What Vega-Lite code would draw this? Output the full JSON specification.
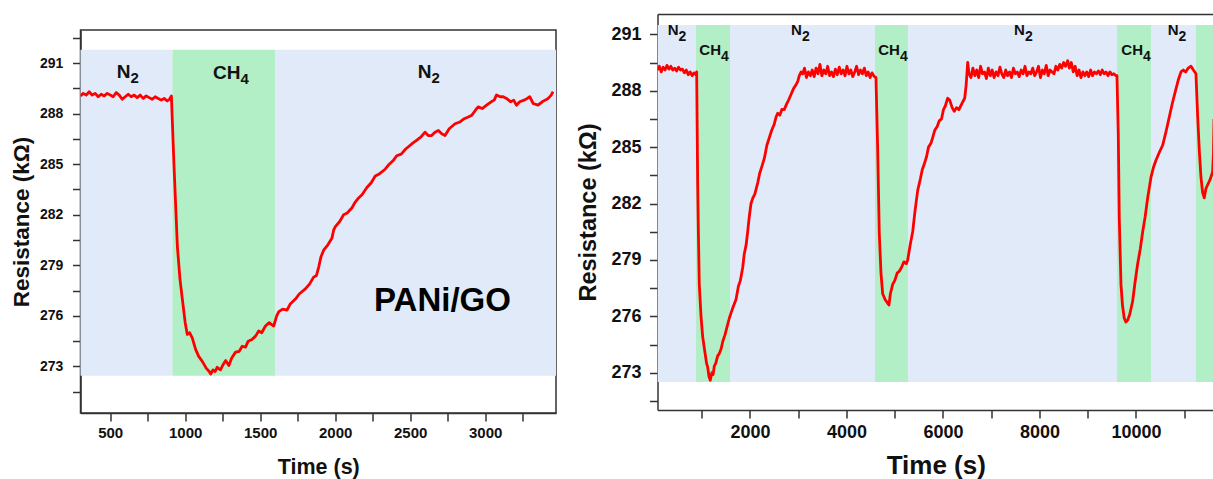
{
  "$schema": "https://vega.github.io/schema/vega-lite/v6.json",
  "padding": {"left": 9.5, "top": 14, "right": 0, "bottom": 0},
  "background": "white",
  "config": {
    "font": "Liberation Sans",
    "view": {"stroke": null},
    "axis": {
      "grid": false,
      "domainColor": "#333333",
      "domainWidth": 1.5,
      "tickColor": "#333333",
      "tickWidth": 1.5,
      "labelColor": "#111111",
      "titleColor": "#111111",
      "labelFontWeight": "bold",
      "titleFontWeight": "bold",
      "labelOverlap": false,
      "labelFlush": false,
      "tickCount": 100
    }
  },
  "datasets": {
    "leftBands": [
      {"t0": 302, "t1": 915, "gas": "N2"},
      {"t0": 915, "t1": 1602, "gas": "CH4"},
      {"t0": 1602, "t1": 3472, "gas": "N2"}
    ],
    "rightBands": [
      {"t0": 83, "t1": 881, "gas": "N2"},
      {"t0": 881, "t1": 1586, "gas": "CH4"},
      {"t0": 1586, "t1": 4590, "gas": "N2"},
      {"t0": 4590, "t1": 5274, "gas": "CH4"},
      {"t0": 5274, "t1": 9606, "gas": "N2"},
      {"t0": 9606, "t1": 10311, "gas": "CH4"},
      {"t0": 10311, "t1": 11243, "gas": "N2"},
      {"t0": 11243, "t1": 11617, "gas": "CH4"}
    ],
    "leftLabels": [
      {"t": 635, "r": 290.13, "main": "N", "sub": "2"},
      {"t": 1369, "r": 290.07, "main": "CH", "sub": "4"},
      {"t": 2642, "r": 290.13, "main": "N", "sub": "2"}
    ],
    "rightLabels": [
      {"t": 518, "r": 290.96, "main": "N", "sub": "2"},
      {"t": 1399, "r": 289.9, "main": "CH", "sub": "4"},
      {"t": 3077, "r": 290.96, "main": "N", "sub": "2"},
      {"t": 5107, "r": 289.9, "main": "CH", "sub": "4"},
      {"t": 7699, "r": 290.96, "main": "N", "sub": "2"},
      {"t": 10145, "r": 289.9, "main": "CH", "sub": "4"},
      {"t": 10881, "r": 290.96, "main": "N", "sub": "2"}
    ],
    "L": [
      {"t": 302, "r": 289.05}, {"t": 320, "r": 289.2}, {"t": 340, "r": 289.1}, {"t": 360, "r": 289.3},
      {"t": 380, "r": 289.1}, {"t": 400, "r": 289.2}, {"t": 420, "r": 289.0}, {"t": 440, "r": 289.15},
      {"t": 460, "r": 289.05}, {"t": 480, "r": 289.2}, {"t": 500, "r": 289.1}, {"t": 520, "r": 289.0},
      {"t": 540, "r": 289.25}, {"t": 560, "r": 289.1}, {"t": 580, "r": 288.85}, {"t": 600, "r": 289.0},
      {"t": 620, "r": 289.15}, {"t": 640, "r": 289.0}, {"t": 660, "r": 289.1}, {"t": 680, "r": 288.95},
      {"t": 700, "r": 289.1}, {"t": 720, "r": 288.9}, {"t": 740, "r": 289.05}, {"t": 760, "r": 288.95},
      {"t": 780, "r": 288.85}, {"t": 800, "r": 289.0}, {"t": 820, "r": 288.9}, {"t": 840, "r": 288.8},
      {"t": 860, "r": 288.9}, {"t": 880, "r": 288.75}, {"t": 895, "r": 288.85}, {"t": 908, "r": 289.05},
      {"t": 925, "r": 285.0}, {"t": 948, "r": 280.1}, {"t": 965, "r": 278.2}, {"t": 981, "r": 277.0},
      {"t": 1000, "r": 275.6}, {"t": 1014, "r": 274.9}, {"t": 1030, "r": 275.0}, {"t": 1047, "r": 274.7},
      {"t": 1070, "r": 274.0}, {"t": 1090, "r": 273.6}, {"t": 1114, "r": 273.3}, {"t": 1140, "r": 272.9},
      {"t": 1160, "r": 272.7}, {"t": 1170, "r": 272.55}, {"t": 1185, "r": 272.8}, {"t": 1200, "r": 272.7},
      {"t": 1213, "r": 272.95}, {"t": 1235, "r": 272.8}, {"t": 1255, "r": 273.15}, {"t": 1270, "r": 273.35},
      {"t": 1291, "r": 273.05}, {"t": 1310, "r": 273.5}, {"t": 1336, "r": 273.85}, {"t": 1360, "r": 273.9},
      {"t": 1380, "r": 274.2}, {"t": 1402, "r": 274.15}, {"t": 1420, "r": 274.5}, {"t": 1445, "r": 274.6},
      {"t": 1469, "r": 274.8}, {"t": 1490, "r": 275.1}, {"t": 1510, "r": 275.0}, {"t": 1535, "r": 275.4},
      {"t": 1560, "r": 275.6}, {"t": 1590, "r": 275.4}, {"t": 1610, "r": 276.0}, {"t": 1624, "r": 276.25},
      {"t": 1650, "r": 276.4}, {"t": 1679, "r": 276.35}, {"t": 1700, "r": 276.7}, {"t": 1735, "r": 277.0},
      {"t": 1760, "r": 277.3}, {"t": 1801, "r": 277.6}, {"t": 1830, "r": 277.9}, {"t": 1856, "r": 278.3},
      {"t": 1875, "r": 278.4}, {"t": 1890, "r": 278.9}, {"t": 1905, "r": 279.5}, {"t": 1923, "r": 279.9},
      {"t": 1950, "r": 280.2}, {"t": 1978, "r": 280.6}, {"t": 1990, "r": 281.1}, {"t": 2001, "r": 281.3},
      {"t": 2030, "r": 281.6}, {"t": 2056, "r": 282.0}, {"t": 2080, "r": 282.1}, {"t": 2111, "r": 282.4},
      {"t": 2130, "r": 282.7}, {"t": 2156, "r": 283.0}, {"t": 2180, "r": 283.2}, {"t": 2210, "r": 283.6},
      {"t": 2240, "r": 283.9}, {"t": 2267, "r": 284.3}, {"t": 2290, "r": 284.4}, {"t": 2333, "r": 284.7},
      {"t": 2360, "r": 285.0}, {"t": 2385, "r": 285.2}, {"t": 2410, "r": 285.5}, {"t": 2440, "r": 285.6},
      {"t": 2470, "r": 285.9}, {"t": 2510, "r": 286.2}, {"t": 2540, "r": 286.4}, {"t": 2570, "r": 286.6},
      {"t": 2599, "r": 286.9}, {"t": 2620, "r": 286.7}, {"t": 2643, "r": 286.7}, {"t": 2665, "r": 286.9},
      {"t": 2688, "r": 287.0}, {"t": 2710, "r": 286.8}, {"t": 2732, "r": 286.7}, {"t": 2760, "r": 287.1},
      {"t": 2799, "r": 287.4}, {"t": 2830, "r": 287.5}, {"t": 2860, "r": 287.7}, {"t": 2887, "r": 287.8},
      {"t": 2910, "r": 287.9}, {"t": 2935, "r": 288.2}, {"t": 2953, "r": 288.4}, {"t": 2980, "r": 288.3},
      {"t": 3009, "r": 288.5}, {"t": 3040, "r": 288.7}, {"t": 3060, "r": 288.8}, {"t": 3075, "r": 289.1},
      {"t": 3100, "r": 289.0}, {"t": 3120, "r": 289.0}, {"t": 3142, "r": 288.9}, {"t": 3170, "r": 288.7},
      {"t": 3190, "r": 288.8}, {"t": 3208, "r": 288.5}, {"t": 3230, "r": 288.7}, {"t": 3260, "r": 288.8},
      {"t": 3280, "r": 288.9}, {"t": 3297, "r": 289.0}, {"t": 3320, "r": 288.6}, {"t": 3352, "r": 288.5},
      {"t": 3380, "r": 288.7}, {"t": 3400, "r": 288.8}, {"t": 3420, "r": 288.9}, {"t": 3440, "r": 289.1},
      {"t": 3452, "r": 289.3}
    ],
    "R": [
      {"t": 83, "r": 289.1}, {"t": 120, "r": 289.3}, {"t": 160, "r": 289.0}, {"t": 200, "r": 289.25},
      {"t": 240, "r": 289.1}, {"t": 280, "r": 289.35}, {"t": 320, "r": 289.15}, {"t": 360, "r": 289.3},
      {"t": 400, "r": 289.1}, {"t": 440, "r": 289.2}, {"t": 480, "r": 289.05}, {"t": 520, "r": 289.25},
      {"t": 560, "r": 289.1}, {"t": 600, "r": 289.15}, {"t": 640, "r": 288.95}, {"t": 680, "r": 289.1},
      {"t": 720, "r": 288.85}, {"t": 760, "r": 289.0}, {"t": 800, "r": 288.8}, {"t": 840, "r": 288.95},
      {"t": 880, "r": 288.85}, {"t": 895, "r": 289.0},
      {"t": 916, "r": 283.0}, {"t": 930, "r": 280.5}, {"t": 949, "r": 277.7}, {"t": 985, "r": 276.0},
      {"t": 1020, "r": 274.9}, {"t": 1060, "r": 274.2}, {"t": 1100, "r": 273.5}, {"t": 1123, "r": 273.3},
      {"t": 1150, "r": 272.8}, {"t": 1177, "r": 272.6}, {"t": 1210, "r": 273.0}, {"t": 1235, "r": 272.9},
      {"t": 1260, "r": 273.35}, {"t": 1290, "r": 273.5}, {"t": 1330, "r": 273.9}, {"t": 1360, "r": 274.0},
      {"t": 1399, "r": 274.25}, {"t": 1440, "r": 274.7}, {"t": 1480, "r": 275.0}, {"t": 1520, "r": 275.4},
      {"t": 1571, "r": 275.9}, {"t": 1610, "r": 276.2}, {"t": 1650, "r": 276.5}, {"t": 1710, "r": 276.9},
      {"t": 1760, "r": 277.6}, {"t": 1800, "r": 277.9}, {"t": 1849, "r": 278.6}, {"t": 1880, "r": 279.3},
      {"t": 1920, "r": 279.8}, {"t": 1952, "r": 280.5}, {"t": 1985, "r": 281.3}, {"t": 2021, "r": 282.0},
      {"t": 2060, "r": 282.3}, {"t": 2100, "r": 282.5}, {"t": 2160, "r": 283.1}, {"t": 2200, "r": 283.6},
      {"t": 2250, "r": 284.0}, {"t": 2297, "r": 284.4}, {"t": 2350, "r": 285.1}, {"t": 2400, "r": 285.5},
      {"t": 2450, "r": 285.9}, {"t": 2500, "r": 286.2}, {"t": 2540, "r": 286.6}, {"t": 2574, "r": 286.8},
      {"t": 2620, "r": 286.7}, {"t": 2660, "r": 287.0}, {"t": 2711, "r": 287.0}, {"t": 2760, "r": 287.3},
      {"t": 2800, "r": 287.5}, {"t": 2850, "r": 287.8}, {"t": 2900, "r": 288.1}, {"t": 2950, "r": 288.3},
      {"t": 2990, "r": 288.5}, {"t": 3022, "r": 288.8}, {"t": 3060, "r": 289.0}, {"t": 3092, "r": 288.9},
      {"t": 3130, "r": 289.2}, {"t": 3170, "r": 288.7}, {"t": 3210, "r": 289.0}, {"t": 3250, "r": 288.8},
      {"t": 3290, "r": 289.1}, {"t": 3330, "r": 288.75}, {"t": 3370, "r": 289.2}, {"t": 3410, "r": 288.9},
      {"t": 3450, "r": 289.4}, {"t": 3490, "r": 288.8}, {"t": 3530, "r": 289.1}, {"t": 3570, "r": 288.9},
      {"t": 3610, "r": 289.3}, {"t": 3650, "r": 288.8}, {"t": 3690, "r": 289.0}, {"t": 3730, "r": 288.75},
      {"t": 3770, "r": 289.15}, {"t": 3810, "r": 288.85}, {"t": 3850, "r": 289.25}, {"t": 3890, "r": 288.9},
      {"t": 3930, "r": 289.1}, {"t": 3970, "r": 288.8}, {"t": 4010, "r": 289.3}, {"t": 4050, "r": 288.9},
      {"t": 4090, "r": 289.1}, {"t": 4130, "r": 288.75}, {"t": 4170, "r": 289.0}, {"t": 4210, "r": 289.3},
      {"t": 4250, "r": 288.85}, {"t": 4290, "r": 289.1}, {"t": 4330, "r": 288.9}, {"t": 4370, "r": 289.2},
      {"t": 4410, "r": 288.8}, {"t": 4450, "r": 289.0}, {"t": 4490, "r": 288.7}, {"t": 4530, "r": 288.95},
      {"t": 4576, "r": 288.75},
      {"t": 4611, "r": 288.7}, {"t": 4647, "r": 284.8}, {"t": 4680, "r": 280.4}, {"t": 4715, "r": 278.3},
      {"t": 4750, "r": 277.2}, {"t": 4800, "r": 276.9}, {"t": 4854, "r": 276.7}, {"t": 4880, "r": 276.6},
      {"t": 4910, "r": 277.2}, {"t": 4957, "r": 277.7}, {"t": 5000, "r": 277.9}, {"t": 5050, "r": 278.3},
      {"t": 5094, "r": 278.4}, {"t": 5140, "r": 278.6}, {"t": 5190, "r": 278.9}, {"t": 5240, "r": 278.8},
      {"t": 5268, "r": 279.0}, {"t": 5320, "r": 279.8}, {"t": 5372, "r": 280.5}, {"t": 5420, "r": 281.6},
      {"t": 5476, "r": 282.7}, {"t": 5530, "r": 283.3}, {"t": 5570, "r": 283.8}, {"t": 5612, "r": 284.1},
      {"t": 5660, "r": 284.5}, {"t": 5700, "r": 285.0}, {"t": 5750, "r": 285.2}, {"t": 5786, "r": 285.5},
      {"t": 5830, "r": 285.9}, {"t": 5880, "r": 286.1}, {"t": 5923, "r": 286.4}, {"t": 5970, "r": 286.5},
      {"t": 6010, "r": 287.0}, {"t": 6050, "r": 287.2}, {"t": 6097, "r": 287.6}, {"t": 6140, "r": 287.5},
      {"t": 6190, "r": 287.1}, {"t": 6234, "r": 286.9}, {"t": 6280, "r": 287.1}, {"t": 6330, "r": 287.0},
      {"t": 6370, "r": 287.2}, {"t": 6408, "r": 287.4}, {"t": 6450, "r": 287.6}, {"t": 6480, "r": 288.3},
      {"t": 6512, "r": 289.5}, {"t": 6540, "r": 288.9}, {"t": 6580, "r": 288.7},
      {"t": 6620, "r": 289.2}, {"t": 6660, "r": 288.8}, {"t": 6700, "r": 289.1}, {"t": 6740, "r": 288.7},
      {"t": 6780, "r": 289.3}, {"t": 6820, "r": 288.9}, {"t": 6860, "r": 289.0}, {"t": 6900, "r": 288.65},
      {"t": 6940, "r": 289.2}, {"t": 6980, "r": 288.8}, {"t": 7020, "r": 289.1}, {"t": 7060, "r": 288.7},
      {"t": 7100, "r": 289.0}, {"t": 7140, "r": 288.8}, {"t": 7180, "r": 289.25}, {"t": 7220, "r": 288.9},
      {"t": 7260, "r": 288.7}, {"t": 7300, "r": 289.1}, {"t": 7340, "r": 288.8}, {"t": 7380, "r": 289.0},
      {"t": 7420, "r": 288.7}, {"t": 7460, "r": 289.2}, {"t": 7500, "r": 288.9}, {"t": 7540, "r": 289.0},
      {"t": 7580, "r": 288.75}, {"t": 7620, "r": 289.1}, {"t": 7660, "r": 288.9}, {"t": 7700, "r": 289.3},
      {"t": 7740, "r": 288.8}, {"t": 7780, "r": 289.0}, {"t": 7820, "r": 288.9}, {"t": 7860, "r": 289.2},
      {"t": 7900, "r": 288.8}, {"t": 7940, "r": 289.0}, {"t": 7980, "r": 289.3}, {"t": 8020, "r": 288.7},
      {"t": 8060, "r": 289.1}, {"t": 8100, "r": 288.9}, {"t": 8140, "r": 289.35}, {"t": 8180, "r": 288.8},
      {"t": 8220, "r": 289.1}, {"t": 8260, "r": 289.0}, {"t": 8300, "r": 288.9}, {"t": 8340, "r": 289.3},
      {"t": 8380, "r": 289.1}, {"t": 8420, "r": 289.4}, {"t": 8460, "r": 289.2}, {"t": 8500, "r": 289.5},
      {"t": 8540, "r": 289.3}, {"t": 8584, "r": 289.6}, {"t": 8620, "r": 289.2}, {"t": 8660, "r": 289.5},
      {"t": 8700, "r": 289.0}, {"t": 8740, "r": 289.3}, {"t": 8780, "r": 288.8}, {"t": 8820, "r": 289.1},
      {"t": 8860, "r": 288.7}, {"t": 8900, "r": 289.0}, {"t": 8940, "r": 288.8}, {"t": 8980, "r": 289.0},
      {"t": 9020, "r": 288.75}, {"t": 9060, "r": 289.1}, {"t": 9100, "r": 288.8}, {"t": 9140, "r": 289.0},
      {"t": 9180, "r": 288.9}, {"t": 9220, "r": 289.05}, {"t": 9260, "r": 288.85}, {"t": 9300, "r": 289.1},
      {"t": 9340, "r": 288.9}, {"t": 9380, "r": 289.0}, {"t": 9420, "r": 288.8}, {"t": 9460, "r": 289.0},
      {"t": 9500, "r": 288.85}, {"t": 9540, "r": 288.9}, {"t": 9585, "r": 288.8},
      {"t": 9606, "r": 288.8}, {"t": 9633, "r": 285.7}, {"t": 9654, "r": 281.2}, {"t": 9689, "r": 277.7},
      {"t": 9720, "r": 276.6}, {"t": 9757, "r": 275.9}, {"t": 9790, "r": 275.7}, {"t": 9828, "r": 275.8},
      {"t": 9870, "r": 276.1}, {"t": 9931, "r": 276.8}, {"t": 9980, "r": 277.8}, {"t": 10035, "r": 278.8},
      {"t": 10090, "r": 279.6}, {"t": 10139, "r": 280.5}, {"t": 10190, "r": 281.3}, {"t": 10242, "r": 282.3},
      {"t": 10280, "r": 282.9}, {"t": 10311, "r": 283.4}, {"t": 10360, "r": 283.9}, {"t": 10414, "r": 284.3},
      {"t": 10480, "r": 284.7}, {"t": 10553, "r": 285.1}, {"t": 10620, "r": 285.8}, {"t": 10690, "r": 286.6},
      {"t": 10760, "r": 287.4}, {"t": 10829, "r": 288.1}, {"t": 10880, "r": 288.6}, {"t": 10933, "r": 289.0},
      {"t": 10980, "r": 289.1}, {"t": 11030, "r": 289.0}, {"t": 11080, "r": 289.2}, {"t": 11140, "r": 289.3},
      {"t": 11190, "r": 289.1}, {"t": 11243, "r": 288.9}, {"t": 11279, "r": 286.6}, {"t": 11313, "r": 284.8},
      {"t": 11347, "r": 283.4}, {"t": 11380, "r": 282.6}, {"t": 11415, "r": 282.3}, {"t": 11450, "r": 282.8},
      {"t": 11486, "r": 283.0}, {"t": 11540, "r": 283.3}, {"t": 11589, "r": 283.7}, {"t": 11605, "r": 284.6},
      {"t": 11617, "r": 286.5}
    ]
  },
  "spacing": 19,
  "hconcat": [
    {
      "spacing": 0,
      "vconcat": [
        {
          "width": 475.5,
          "height": 15,
          "data": {"values": [{}]},
          "mark": {"type": "text", "text": ""},
          "encoding": {}
        },
        {
          "width": 475.5,
          "height": 383,
          "view": {"stroke": "#333333", "strokeWidth": 1.5},
          "layer": [
            {
              "data": {"name": "leftBands"},
              "mark": {"type": "rect"},
              "encoding": {
                "x": {"field": "t0", "type": "quantitative"},
                "x2": {"field": "t1"},
                "y": {"datum": 272.45, "type": "quantitative"},
                "y2": {"datum": 291.79},
                "color": {
                  "field": "gas", "type": "nominal", "legend": null,
                  "scale": {"domain": ["N2", "CH4"], "range": ["#e0eaf9", "#b3efc6"]}
                }
              }
            },
            {
              "data": {"name": "L"},
              "mark": {"type": "line", "color": "#ff0000", "strokeWidth": 2.8, "strokeJoin": "round", "clip": true},
              "encoding": {
                "x": {
                  "field": "t", "type": "quantitative",
                  "scale": {"domain": [302, 3472], "nice": false, "zero": false},
                  "axis": {
                    "title": "Time (s)",
                    "values": [500, 750, 1000, 1250, 1500, 1750, 2000, 2250, 2500, 2750, 3000, 3250],
                    "tickCount": 100,
                    "format": "d",
                    "labelExpr": "datum.value % 500 === 0 ? datum.label : ''",
                    "tickSize": 8,
                    "labelFontSize": 15,
                    "labelPadding": 4.5,
                    "titleFontSize": 21.5,
                    "titlePadding": 16
                  }
                },
                "y": {
                  "field": "r", "type": "quantitative",
                  "scale": {"domain": [270.24, 292.96], "nice": false, "zero": false},
                  "axis": {
                    "title": "Resistance (kΩ)",
                    "values": [271.5, 273, 274.5, 276, 277.5, 279, 280.5, 282, 283.5, 285, 286.5, 288, 289.5, 291, 292.5],
                    "tickCount": 100,
                    "format": "d",
                    "labelExpr": "datum.value % 3 === 0 ? datum.label : ''",
                    "tickSize": 8,
                    "labelFontSize": 14,
                    "labelPadding": 9.7,
                    "titleFontSize": 22.5,
                    "titlePadding": 6
                  }
                }
              }
            },
            {
              "data": {"name": "leftLabels"},
              "mark": {"type": "text", "align": "right", "baseline": "alphabetic", "fontSize": 19, "fontWeight": "bold", "color": "#111111"},
              "encoding": {
                "x": {"field": "t", "type": "quantitative"},
                "y": {"field": "r", "type": "quantitative"},
                "text": {"field": "main"}
              }
            },
            {
              "data": {"name": "leftLabels"},
              "mark": {"type": "text", "align": "left", "baseline": "alphabetic", "fontSize": 15, "fontWeight": "bold", "dy": 5, "color": "#111111"},
              "encoding": {
                "x": {"field": "t", "type": "quantitative"},
                "y": {"field": "r", "type": "quantitative"},
                "text": {"field": "sub"}
              }
            },
            {
              "data": {"values": [{"t": 2715, "r": 276.9, "label": "PANi/GO"}]},
              "mark": {"type": "text", "align": "center", "baseline": "middle", "fontSize": 33, "fontWeight": "bold", "color": "#000000"},
              "encoding": {
                "x": {"field": "t", "type": "quantitative"},
                "y": {"field": "r", "type": "quantitative"},
                "text": {"field": "label"}
              }
            }
          ]
        }
      ]
    },
    {
      "width": 556.5,
      "height": 396,
      "resolve": {"axis": {"x": "independent"}},
      "layer": [
        {
          "data": {"name": "rightBands"},
          "mark": {"type": "rect", "clip": true},
          "encoding": {
            "x": {
              "field": "t0", "type": "quantitative",
              "scale": {"domain": [83, 11617], "nice": false, "zero": false},
              "axis": {"orient": "top", "labels": false, "ticks": false, "title": null, "domain": true}
            },
            "x2": {"field": "t1"},
            "y": {"datum": 272.51, "type": "quantitative"},
            "y2": {"datum": 291.49},
            "color": {
              "field": "gas", "type": "nominal", "legend": null,
              "scale": {"domain": ["N2", "CH4"], "range": ["#e0eaf9", "#b3efc6"]}
            }
          }
        },
        {
          "data": {"name": "R"},
          "mark": {"type": "line", "color": "#ff0000", "strokeWidth": 2.8, "strokeJoin": "round", "clip": true},
          "encoding": {
            "x": {
              "field": "t", "type": "quantitative",
              "axis": {
                "orient": "bottom",
                "title": "Time (s)",
                "values": [1000, 2000, 3000, 4000, 5000, 6000, 7000, 8000, 9000, 10000, 11000],
                "tickCount": 100,
                "format": "d",
                "labelExpr": "datum.value % 2000 === 0 ? datum.label : ''",
                "tickSize": 8,
                "labelFontSize": 18,
                "labelPadding": 5,
                "titleFontSize": 26,
                "titlePadding": 11
              }
            },
            "y": {
              "field": "r", "type": "quantitative",
              "scale": {"domain": [271.02, 292.08], "nice": false, "zero": false},
              "axis": {
                "title": "Resistance (kΩ)",
                "values": [271.5, 273, 274.5, 276, 277.5, 279, 280.5, 282, 283.5, 285, 286.5, 288, 289.5, 291],
                "tickCount": 100,
                "format": "d",
                "labelExpr": "datum.value % 3 === 0 ? datum.label : ''",
                "tickSize": 8,
                "labelFontSize": 18,
                "labelPadding": 8.5,
                "titleFontSize": 23.5,
                "titlePadding": 10
              }
            }
          }
        },
        {
          "data": {"name": "rightLabels"},
          "mark": {"type": "text", "align": "right", "baseline": "alphabetic", "fontSize": 15, "fontWeight": "bold", "color": "#111111"},
          "encoding": {
            "x": {"field": "t", "type": "quantitative", "axis": null},
            "y": {"field": "r", "type": "quantitative"},
            "text": {"field": "main"}
          }
        },
        {
          "data": {"name": "rightLabels"},
          "mark": {"type": "text", "align": "left", "baseline": "alphabetic", "fontSize": 14, "fontWeight": "bold", "dy": 6, "color": "#111111"},
          "encoding": {
            "x": {"field": "t", "type": "quantitative", "axis": null},
            "y": {"field": "r", "type": "quantitative"},
            "text": {"field": "sub"}
          }
        }
      ]
    }
  ]
}
